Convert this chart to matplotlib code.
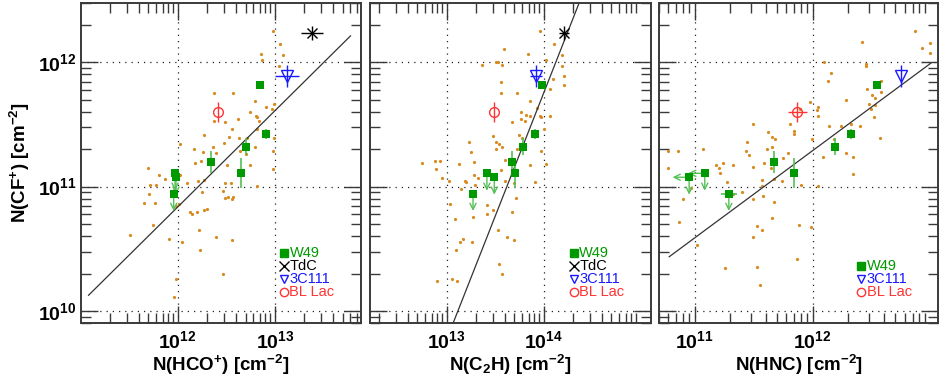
import numpy as np
import matplotlib
matplotlib.use('Agg')
import matplotlib.pyplot as plt
from matplotlib.ticker import LogLocator, FixedLocator, FuncFormatter, NullFormatter

plt.rcParams['font.family'] = ['Liberation Sans', 'DejaVu Sans']
plt.rcParams['mathtext.fontset'] = 'custom'
plt.rcParams['mathtext.rm'] = 'Liberation Sans:bold'
plt.rcParams['mathtext.it'] = 'Liberation Sans:bold'
plt.rcParams['mathtext.bf'] = 'Liberation Sans:bold'
plt.rcParams['mathtext.default'] = 'rm'

# ---- comparison sample (orange dots) ----
hco_x = [9.6e12, 1.14e13, 7.2e12, 1.21e13, 7.4e12, 1.1e13, 2.36e12, 3.7e12, 6.3e12, 9.8e12,
         8.2e12, 9.3e12, 5.6e12, 2.36e12, 6.4e12, 6.6e12, 4.2e12, 6.8e12, 3.1e12, 3.6e12,
         6.5e12, 1.86e12, 3.4e12, 4.3e12, 5.2e12, 9.7e12, 3.0e12, 2.3e12, 6.2e12, 1.06e12,
         1.46e12, 1.84e12, 2.5e12, 4.4e12, 9.5e12, 5.0e12, 1.5e12, 1.75e12, 3.2e12, 5.6e12,
         5.0e11, 9.5e12, 6.5e11, 7.4e11, 1.05e12, 5.2e11, 6.0e11, 1.24e12, 1.6e12, 1.87e12,
         3.1e12, 3.5e12, 6.6e12, 5.1e11, 1.8e12, 2.9e12, 3.1e12, 3.3e12, 3.6e12, 3.7e12,
         4.5e11, 5.9e11, 9.7e11, 1.03e12, 1.33e12, 1.42e12, 1.58e12, 1.87e12, 2.0e12, 5.6e11,
         3.2e11, 1.64e12, 8.2e11, 1.12e12, 2.5e12, 3.6e12, 1.7e12, 2.9e12, 9.5e11, 9.2e11]
hco_cf = [1.79e12, 1.41e12, 1.16e12, 1.14e12, 1.04e12, 9.4e11, 5.7e11, 5.7e11, 4.9e11, 4.6e11,
          4.4e11, 4.2e11, 4.0e11, 3.4e11, 3.7e11, 3.6e11, 3.5e11, 3.4e11, 3.3e11, 2.9e11,
          2.9e11, 2.6e11, 2.5e11, 2.45e11, 2.45e11, 2.45e11, 2.26e11, 2.1e11, 2.1e11, 2.2e11,
          2.0e11, 1.9e11, 1.85e11, 1.94e11, 1.95e11, 1.82e11, 1.56e11, 1.6e11, 1.49e11, 1.5e11,
          1.4e11, 1.38e11, 1.25e11, 1.15e11, 1.25e11, 1.04e11, 1.04e11, 1.07e11, 1.12e11, 1.14e11,
          1.07e11, 1.06e11, 1.02e11, 8.8e10, 9.0e10, 9.2e10, 8.1e10, 8.2e10, 7.9e10, 8.3e10,
          7.4e10, 7.4e10, 7.0e10, 7.2e10, 6.2e10, 6.0e10, 6.3e10, 6.5e10, 6.6e10, 4.9e10,
          4.1e10, 4.5e10, 3.8e10, 3.6e10, 3.9e10, 3.75e10, 3.1e10, 2.0e10, 1.8e10, 1.3e10]

c2h_x = [9.2e13, 1.29e14, 3.9e13, 6.9e13, 1.56e14, 1.07e14, 3.2e13, 3.4e13, 3.7e13, 2.3e13,
         1.55e14, 1.64e14, 1.26e14, 3.6e13, 1.62e14, 1.15e14, 3.6e13, 5.3e13, 7.3e13, 8.6e13,
         5.9e13, 6.6e13, 9.2e13, 1.16e14, 7.3e13, 5.8e13, 9.4e13, 6.5e13, 4.7e13, 1.0e14,
         3.0e13, 5.6e13, 6.0e13, 3.2e13, 3.5e13, 3.7e13, 3.2e13, 1.7e13, 1.8e13, 5.3e13,
         9.5e13, 4.0e13, 5.6e12, 7.6e12, 8.5e12, 1.34e13, 1.9e13, 7.3e13, 1.07e14, 7.8e12,
         9.0e12, 1.06e13, 1.53e13, 1.6e13, 1.9e13, 2.1e13, 1.39e13, 1.97e13, 3.6e13, 4.0e13,
         4.9e13, 8.1e13, 5.2e13, 1.08e13, 2.6e13, 3.0e13, 2.6e13, 4.7e13, 1.85e13, 1.22e13,
         3.4e13, 1.46e13, 1.36e13, 1.84e13, 4.2e13, 4.9e13, 1.26e13, 3.5e13, 3.7e13, 7.9e12,
         1.14e13, 1.29e13]
c2h_cf = [1.79e12, 1.41e12, 1.29e12, 1.16e12, 1.14e12, 1.05e12, 1.0e12, 1.0e12, 9.5e11, 9.5e11,
          9.4e11, 7.8e11, 7.4e11, 7.0e11, 6.6e11, 6.1e11, 5.7e11, 5.7e11, 4.9e11, 4.3e11,
          4.0e11, 3.8e11, 3.7e11, 3.7e11, 3.7e11, 3.5e11, 3.6e11, 3.4e11, 3.3e11, 2.9e11,
          2.55e11, 2.6e11, 2.45e11, 2.3e11, 2.2e11, 2.1e11, 2.0e11, 2.3e11, 1.9e11, 2.0e11,
          1.95e11, 1.65e11, 1.54e11, 1.6e11, 1.6e11, 1.53e11, 1.58e11, 1.5e11, 1.53e11, 1.39e11,
          1.18e11, 1.12e11, 1.12e11, 1.08e11, 1.25e11, 1.18e11, 9.5e10, 1.03e11, 1.37e11, 1.12e11,
          1.07e11, 1.08e11, 8.1e10, 7.3e10, 7.1e10, 6.5e10, 6.0e10, 6.2e10, 5.7e10, 5.5e10,
          4.5e10, 3.8e10, 3.6e10, 3.6e10, 3.9e10, 3.75e10, 3.1e10, 2.4e10, 2.0e10, 1.75e10,
          1.8e10, 1.75e10]

hnc_x = [7.4e12, 2.6e12, 9.9e12, 8.4e12, 9.9e12, 1.24e12, 2.8e12, 2.8e12, 1.44e12, 1.36e12,
         3.8e12, 3.8e12, 2.9e12, 3.2e12, 3.4e12, 1.92e12, 9.5e11, 1.1e12, 3.0e12, 3.4e12,
         3.1e12, 1.08e12, 7.8e11, 1.1e12, 3.3e12, 3.1e11, 6.4e11, 1.37e12, 1.75e12, 2.5e12,
         2.1e12, 7.0e11, 6.9e11, 4.2e11, 4.5e11, 4.8e11, 3.7e12, 9.9e11, 2.8e11, 6.0e10,
         7.2e10, 1.17e11, 2.7e11, 4.1e11, 4.5e11, 2.9e11, 6.2e11, 5.6e11, 1.92e12, 2.2e12,
         1.22e12, 1.52e12, 3.9e11, 1.74e11, 2.1e11, 1.52e11, 6.0e10, 1.6e11, 1.63e11, 3.1e11,
         4.4e11, 3.7e11, 4.7e11, 5.5e11, 1.9e11, 3.7e11, 8.0e11, 1.1e12, 2.2e12, 9.4e10,
         2.5e11, 2.1e11, 3.1e11, 3.8e11, 4.7e11, 8.0e10, 7.4e10, 4.5e11, 3.4e11, 3.7e11,
         7.6e11, 9.7e11, 3.1e11, 1.05e11, 7.3e11, 1.8e11, 3.4e11, 3.6e11]
hnc_cf = [1.77e12, 1.45e12, 1.42e12, 1.31e12, 1.18e12, 1.01e12, 9.7e11, 9.4e11, 8.2e11, 7.1e11,
          7.1e11, 5.8e11, 6.1e11, 5.5e11, 5.2e11, 5.0e11, 4.8e11, 4.4e11, 4.6e11, 4.5e11,
          4.2e11, 4.1e11, 4.2e11, 3.7e11, 3.6e11, 3.2e11, 3.2e11, 3.05e11, 3.05e11, 3.06e11,
          3.2e11, 2.8e11, 2.66e11, 2.76e11, 2.5e11, 2.4e11, 2.45e11, 2.4e11, 2.3e11, 1.94e11,
          1.92e11, 2.0e11, 1.95e11, 1.99e11, 2.07e11, 1.8e11, 1.85e11, 1.7e11, 1.87e11, 1.73e11,
          1.73e11, 2.4e11, 1.56e11, 1.56e11, 1.5e11, 1.5e11, 1.42e11, 1.41e11, 1.29e11, 1.45e11,
          1.42e11, 1.14e11, 1.16e11, 1.11e11, 1.09e11, 1.01e11, 1.04e11, 1.02e11, 1.27e11, 9.8e10,
          9.0e10, 8.7e10, 7.9e10, 8.4e10, 7.5e10, 7.9e10, 5.2e10, 5.6e10, 4.8e10, 4.5e10,
          4.9e10, 4.7e10, 3.9e10, 3.4e10, 2.6e10, 2.2e10, 2.25e10, 1.63e10]

# ---- W49 (green squares); CF+ shared by all panels ----
w49_cf = [6.6e11, 2.66e11, 2.1e11, 1.57e11, 1.28e11, 1.28e11, 1.19e11, 8.8e10]
w49_cf_err = [0.02, 0.04, 0.07, 0.09, 0.12, 0.0, 0.0, 0.0]      # dex
w49_cf_uplim = [False, False, False, False, False, True, True, True]
w49_hco = [7.0e12, 8.2e12, 5.0e12, 2.2e12, 4.5e12, 9.4e11, 9.6e11, 9.1e11]
w49_c2h = [9.6e13, 8.1e13, 6.1e13, 4.7e13, 5.1e13, 2.6e13, 3.1e13, 1.87e13]
w49_hnc = [3.5e12, 2.1e12, 1.55e12, 4.7e11, 7.0e11, 1.22e11, 9.0e10, 1.95e11]
w49_hnc_err = [0.0, 0.0, 0.0, 0.0, 0.0, 0.0, 0.0, 0.07]        # dex
w49_hnc_uplim = [False, False, False, False, False, True, True, False]

# ---- single sources ----
tdc_cf, tdc_cf_err = 1.72e12, 0.06
tdc_hco, tdc_hco_err = 2.41e13, 0.11
tdc_c2h, tdc_c2h_err = 1.61e14, 0.05
c3c111_cf, c3c111_cf_err = 7.8e11, 0.09
c3c111_hco, c3c111_hco_err = 1.33e13, 0.125
c3c111_c2h, c3c111_c2h_err = 8.3e13, 0.06
c3c111_hnc, c3c111_hnc_err = 5.6e12, 0.0
bllac_cf, bllac_cf_err = 4.0e11, 0.08
bllac_hco, bllac_hco_err = 2.6e12, 0.0
bllac_c2h, bllac_c2h_err = 3.1e13, 0.0
bllac_hnc, bllac_hnc_err = 7.4e11, 0.08

# ---- power-law fits: log N(CF+) = slope*(log N(X) - x0) + y0 ----
fit_hco = dict(slope=0.774, x0=12.0, y0=10.836, xmin=1.21e11, xmax=6.0e13)
fit_c2h = dict(slope=1.982, x0=14.0, y0=11.752, xmin=1.0e12, xmax=2.0e15)
fit_hnc = dict(slope=0.703, x0=12.0, y0=11.290, xmin=6.1e10, xmax=1.0e13)

ylim = (8e9, 3e12)
y_ticks = [1e10, 1e11, 1e12]
xlims = [(1e11, 7.7e13), (1.62e12, 1.28e15), (5e10, 1.15e13)]
x_ticks = [[1e12, 1e13], [1e13, 1e14], [1e11, 1e12]]

GREEN = '#009900'
GREEN_LT = '#55c055'
ORANGE = '#d98a1f'
FRAME = '#3a3a3a'


def dex_err(v, e):
    v = np.asarray(v, dtype=float)
    e = np.asarray(e, dtype=float)
    return np.vstack([v - v * 10 ** -e, v * 10 ** e - v])


def arrow(ax, x, y, dx_dex=0.0, dy_dex=0.0, color=GREEN_LT):
    ax.annotate('', xy=(x * 10 ** dx_dex, y * 10 ** dy_dex), xytext=(x, y),
                arrowprops=dict(arrowstyle='->', color=color, lw=1.0,
                                shrinkA=0, shrinkB=0, mutation_scale=11),
                zorder=3)


def draw_panel(ax, dx, dy, w49x, fit, xlim, xticks, xlabel, tdc=None, c3c111=None, bllac=None,
               w49x_err=None, w49x_lim=None, show_tdc=True):
    ax.set_xscale('log')
    ax.set_yscale('log')
    ax.set_xlim(*xlim)
    ax.set_ylim(*ylim)

    ax.plot(dx, dy, 'o', color=ORANGE, ms=2.3, mew=0, zorder=2)

    # fit line
    xs = np.array([fit['xmin'], fit['xmax']])
    ys = 10 ** (fit['slope'] * (np.log10(xs) - fit['x0']) + fit['y0'])
    ax.plot(xs, ys, '-', color='#333333', lw=0.9, zorder=2)

    # W49
    xe = dex_err(w49x, w49x_err if w49x_err is not None else np.zeros(len(w49x)))
    ye = dex_err(w49_cf, w49_cf_err)
    ax.errorbar(w49x, w49_cf, xerr=xe, yerr=ye, fmt='none', ecolor=GREEN_LT, elinewidth=1.2,
                capsize=0, zorder=3)
    for i in range(len(w49x)):
        if w49_cf_uplim[i]:
            arrow(ax, w49x[i], w49_cf[i], dy_dex=-0.14)
        if w49x_lim is not None and w49x_lim[i]:
            arrow(ax, w49x[i], w49_cf[i], dx_dex=-0.14)
    ax.plot(w49x, w49_cf, 's', color=GREEN, ms=6, mew=0, zorder=4)

    if tdc is not None:
        ax.errorbar(tdc[0], tdc_cf, xerr=dex_err([tdc[0]], [tdc[1]]), yerr=dex_err([tdc_cf], [tdc_cf_err]),
                    fmt='x', color='k', ms=7, mew=1.0, elinewidth=1.0, capsize=0, zorder=4)
    ax.errorbar(c3c111[0], c3c111_cf, xerr=dex_err([c3c111[0]], [c3c111[1]]),
                yerr=dex_err([c3c111_cf], [c3c111_cf_err]), fmt='v', color='#1a1aff', mfc='none',
                ms=8, mew=1.0, elinewidth=1.0, capsize=0, zorder=4)
    ax.errorbar(bllac[0], bllac_cf, xerr=dex_err([bllac[0]], [bllac[1]]),
                yerr=dex_err([bllac_cf], [bllac_cf_err]), fmt='o', color='#ff3333', mfc='none',
                ms=7, mew=1.0, elinewidth=1.0, capsize=0, zorder=4)

    # axes styling
    for s in ax.spines.values():
        s.set_color(FRAME)
        s.set_linewidth(1.4)
    ax.xaxis.set_major_locator(FixedLocator(xticks))
    ax.yaxis.set_major_locator(FixedLocator(y_ticks))
    ax.xaxis.set_minor_locator(LogLocator(base=10, subs=np.arange(2, 10), numticks=20))
    ax.yaxis.set_minor_locator(LogLocator(base=10, subs=np.arange(2, 10), numticks=20))
    fmt = FuncFormatter(lambda v, p: r'$10^{%d}$' % round(np.log10(v)))
    ax.xaxis.set_major_formatter(fmt)
    ax.yaxis.set_major_formatter(fmt)
    ax.xaxis.set_minor_formatter(NullFormatter())
    ax.yaxis.set_minor_formatter(NullFormatter())
    ax.tick_params(which='major', direction='in', length=12.5, width=1.0, color=FRAME,
                   top=True, right=True, labelsize=14, pad=5)
    ax.tick_params(which='minor', direction='in', length=7, width=1.0, color=FRAME,
                   top=True, right=True)
    ax.tick_params(axis='y', pad=3)
    ax.grid(which='major', linestyle=(0, (1, 4)), color='#222222', lw=0.9)
    ax.set_xlabel(xlabel, fontsize=13.5, fontweight='bold', labelpad=1)

    # legend
    rows = [0.219, 0.178, 0.1375, 0.097]
    entries = [('s', GREEN, GREEN, 'W49', GREEN)]
    if show_tdc:
        entries.append(('x', 'k', 'k', 'TdC', 'k'))
    entries += [('v', '#1a1aff', 'none', '3C111', '#1a1aff'), ('o', '#ff3333', 'none', 'BL Lac', '#ff3333')]
    if not show_tdc:
        rows = rows[1:]
    for (m, c, fc, lab, tc), ry in zip(entries, rows):
        ax.plot([0.725], [ry], m, color=c, mfc=fc, ms=6 if m != 'x' else 6.5, mew=1.0,
                transform=ax.transAxes, clip_on=False, zorder=5)
        ax.text(0.745, ry, lab, color=tc, fontsize=10.5, va='center', ha='left',
                transform=ax.transAxes)


fig = plt.figure(figsize=(9.41, 3.82), dpi=100)
H = 382.0
W = 941.0
pos = [(80.5, 361.0), (370.0, 651.0), (659.0, 938.0)]
axes = [fig.add_axes([a / W, 1 - 323.0 / H, (b - a) / W, 320.0 / H]) for a, b in pos]

draw_panel(axes[0], hco_x, hco_cf, w49_hco, fit_hco, xlims[0], x_ticks[0],
           r'N(HCO$^{+}$) [cm$^{-2}$]',
           tdc=(tdc_hco, tdc_hco_err), c3c111=(c3c111_hco, c3c111_hco_err),
           bllac=(bllac_hco, bllac_hco_err))
draw_panel(axes[1], c2h_x, c2h_cf, w49_c2h, fit_c2h, xlims[1], x_ticks[1],
           r'N(C$_{2}$H) [cm$^{-2}$]',
           tdc=(tdc_c2h, tdc_c2h_err), c3c111=(c3c111_c2h, c3c111_c2h_err),
           bllac=(bllac_c2h, bllac_c2h_err))
draw_panel(axes[2], hnc_x, hnc_cf, w49_hnc, fit_hnc, xlims[2], x_ticks[2],
           r'N(HNC) [cm$^{-2}$]',
           c3c111=(c3c111_hnc, c3c111_hnc_err), bllac=(bllac_hnc, bllac_hnc_err),
           w49x_err=w49_hnc_err, w49x_lim=w49_hnc_uplim, show_tdc=False)

axes[0].set_ylabel(r'N(CF$^{+}$) [cm$^{-2}$]', fontsize=13.5, fontweight='bold', labelpad=4)
axes[1].tick_params(axis='y', labelleft=False)
axes[2].tick_params(axis='y', labelleft=False)

fig.savefig('out.png', dpi=100)
